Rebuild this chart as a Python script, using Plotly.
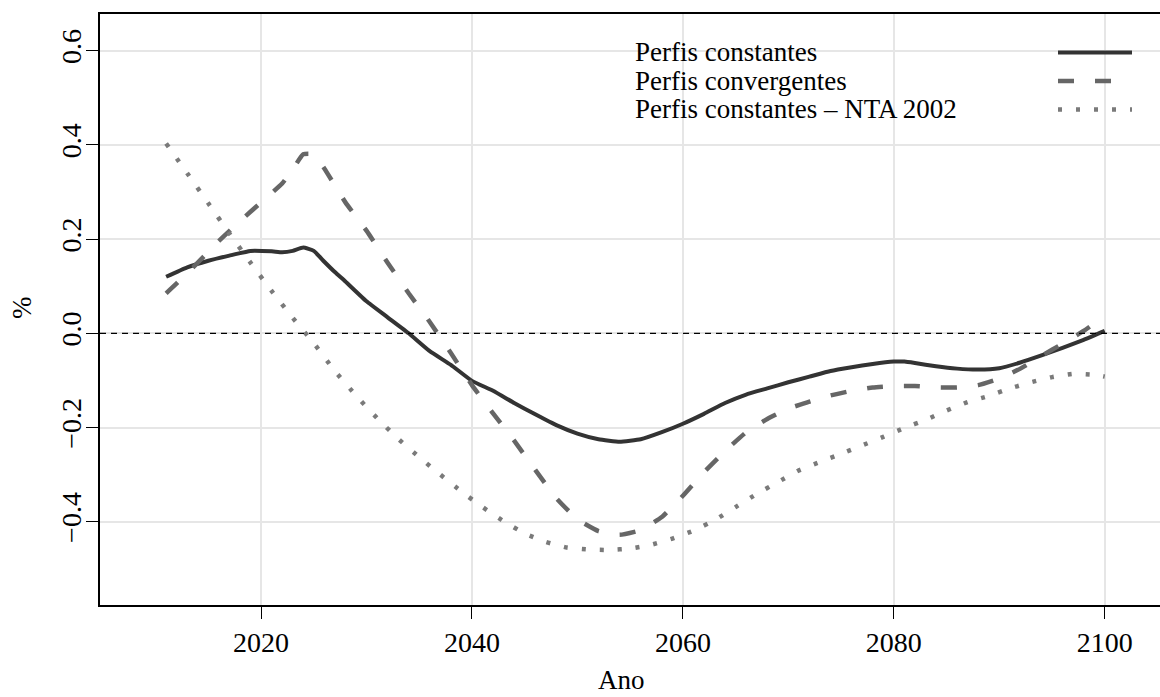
import plotly.graph_objects as go

# Perfis constantes
anos_const = [2011, 2013, 2015, 2017, 2019, 2021, 2022, 2023, 2024, 2025, 2026, 2027, 2028,
              2030, 2032, 2034, 2036, 2038, 2040, 2042, 2044, 2046, 2048, 2050, 2052, 2054,
              2056, 2058, 2060, 2062, 2064, 2066, 2068, 2070, 2072, 2074, 2076, 2078, 2080,
              2081, 2082, 2084, 2086, 2088, 2090, 2092, 2094, 2096, 2098, 2100]
val_const = [0.120, 0.140, 0.154, 0.165, 0.175, 0.174, 0.172, 0.175, 0.182, 0.175, 0.152,
             0.130, 0.110, 0.068, 0.034, 0.000, -0.038, -0.067, -0.101, -0.122, -0.148,
             -0.172, -0.195, -0.213, -0.225, -0.230, -0.225, -0.210, -0.192, -0.171, -0.148,
             -0.130, -0.117, -0.104, -0.092, -0.080, -0.072, -0.065, -0.060, -0.060, -0.063,
             -0.070, -0.075, -0.077, -0.074, -0.062, -0.047, -0.031, -0.014, 0.005]

# Perfis convergentes
anos_conv = [2011, 2012, 2014, 2016, 2018, 2020, 2022, 2023, 2024, 2025, 2026, 2028, 2030,
             2032, 2034, 2036, 2038, 2040, 2042, 2044, 2046, 2048, 2050, 2052, 2054, 2056,
             2058, 2060, 2062, 2064, 2066, 2068, 2070, 2072, 2074, 2076, 2078, 2080, 2082,
             2084, 2086, 2088, 2090, 2092, 2094, 2096, 2098, 2100]
val_conv = [0.085, 0.106, 0.150, 0.196, 0.238, 0.278, 0.318, 0.348, 0.380, 0.380, 0.350,
            0.278, 0.218, 0.150, 0.085, 0.024, -0.042, -0.110, -0.170, -0.228, -0.290,
            -0.350, -0.395, -0.420, -0.428, -0.418, -0.390, -0.345, -0.295, -0.250, -0.210,
            -0.182, -0.160, -0.145, -0.132, -0.122, -0.115, -0.112, -0.112, -0.115, -0.115,
            -0.110, -0.096, -0.075, -0.048, -0.022, 0.005, 0.037]

# Perfis constantes - NTA 2002
anos_nta = [2011, 2013, 2015, 2017, 2019, 2021, 2023, 2025, 2027, 2029, 2031, 2033, 2035,
            2037, 2039, 2041, 2043, 2045, 2047, 2049, 2051, 2053, 2055, 2057, 2059, 2061,
            2063, 2065, 2067, 2069, 2071, 2073, 2075, 2077, 2079, 2081, 2083, 2085, 2087,
            2089, 2091, 2093, 2095, 2097, 2099, 2100]
val_nta = [0.403, 0.340, 0.276, 0.212, 0.150, 0.090, 0.033, -0.021, -0.080, -0.132, -0.180,
           -0.224, -0.263, -0.300, -0.336, -0.369, -0.399, -0.425, -0.443, -0.455, -0.459,
           -0.460, -0.457, -0.449, -0.436, -0.419, -0.397, -0.369, -0.341, -0.316, -0.291,
           -0.273, -0.256, -0.238, -0.220, -0.201, -0.184, -0.164, -0.146, -0.133, -0.117,
           -0.104, -0.093, -0.086, -0.088, -0.092]

nomes = ["Perfis constantes", "Perfis convergentes", "Perfis constantes \u2013 NTA 2002"]
x_ticks = [2020, 2040, 2060, 2080, 2100]
y_ticks = [-0.4, -0.2, 0.0, 0.2, 0.4, 0.6]

FONT = "Liberation Serif"
estilos = [
    dict(color="#333333", width=4, dash="solid"),
    dict(color="#666666", width=4.5, dash="16px,21px"),
    dict(color="#7a7a7a", width=4.5, dash="4px,14px"),
]

fig = go.Figure()
for anos, vals, nome, est in zip([anos_const, anos_conv, anos_nta],
                                 [val_const, val_conv, val_nta], nomes, estilos):
    fig.add_trace(go.Scatter(x=anos, y=vals, mode="lines", name=nome,
                             line=dict(shape="spline", smoothing=0.4, **est),
                             showlegend=False))

# zero reference line
fig.add_shape(type="line", xref="paper", yref="y", x0=0, x1=1, y0=0, y1=0,
              line=dict(color="black", width=1.2, dash="6px,5px"), layer="above")

# legend block: labels on the left, line samples on the right
leg_y = [52.5, 81, 109.5]
for nome, est, yp in zip(nomes, estilos, leg_y):
    yy = 1 - (yp - 14) / 591
    fig.add_annotation(xref="paper", yref="paper", x=(633 - 100) / 1060, y=yy,
                       text=nome, showarrow=False, xanchor="left", yanchor="middle",
                       font=dict(family=FONT, size=27, color="black"))
    fig.add_shape(type="line", xref="paper", yref="paper",
                  x0=(1058 - 100) / 1060, x1=(1132 - 100) / 1060, y0=yy, y1=yy,
                  line=dict(color=est["color"], width=est["width"], dash=est["dash"]))

# axis titles
fig.add_annotation(xref="paper", yref="paper", x=(621 - 100) / 1060, y=(605 - 680) / 591,
                   text="Ano", showarrow=False, xanchor="center", yanchor="middle",
                   font=dict(family=FONT, size=27, color="black"))
fig.add_annotation(xref="paper", yref="paper", x=(22 - 100) / 1060, y=1 - (308 - 14) / 591,
                   text="%", showarrow=False, xanchor="center", yanchor="middle",
                   textangle=-90, font=dict(family=FONT, size=27, color="black"))

tick_font = dict(family=FONT, size=28, color="black")
fig.update_layout(
    width=1160, height=697,
    margin=dict(l=100, r=0, t=14, b=92),
    paper_bgcolor="white", plot_bgcolor="white",
    font=dict(family=FONT, size=28, color="black"),
    showlegend=False,
)
fig.update_xaxes(range=[2004.73, 2105.24], tickvals=x_ticks, ticktext=[str(v) for v in x_ticks],
                 tickfont=tick_font,
                 showgrid=True, gridcolor="#e6e6e6", gridwidth=1.5, zeroline=False,
                 showline=True, linecolor="black", linewidth=1.5, mirror=True,
                 ticks="outside", ticklen=12, tickwidth=1.2, tickcolor="black",
                 ticklabelstandoff=0)
fig.update_yaxes(range=[-0.5769, 0.678], tickvals=y_ticks,
                 ticktext=[f"{v:.1f}".replace("-", "\u2212") for v in y_ticks],
                 tickfont=tick_font,
                 showgrid=True, gridcolor="#e6e6e6", gridwidth=1.5, zeroline=False,
                 showline=True, linecolor="black", linewidth=1.5,
                 ticks="outside", ticklen=12, tickwidth=1.2, tickcolor="black",
                 tickangle=-90, ticklabelstandoff=-6)

fig.write_html("out.html")
